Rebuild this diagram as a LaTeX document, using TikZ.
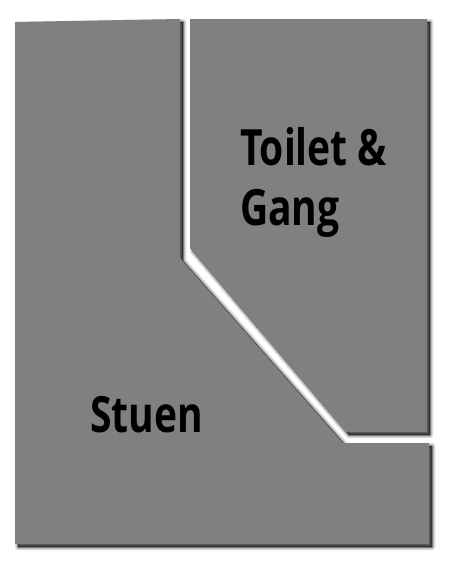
\documentclass[tikz,border=0pt]{standalone}
\usepackage{fontspec}
\setmainfont{Open Sans}[BoldFont={Open Sans Bold},BoldFeatures={FakeStretch=0.78}]
\tikzset{
  room/.style={fill=roomgray,draw=none},
  label/.style={font=\bfseries\fontsize{50}{60}\selectfont,text=black,anchor=base west,inner sep=0pt,outer sep=0pt},
  shadowlayer/.style 2 args={draw=black,fill=black,opacity=#2,line join=round,line width=#1,shift={(3,3)}}
}
\definecolor{roomgray}{HTML}{808080}
\newcommand{\leftroom}{(15,22) -- (180,19) -- (180,258) -- (343,443) -- (429,443) -- (429,544) -- (15,544) -- cycle}
\newcommand{\rightroom}{(190,19) -- (427,19) -- (427,432) -- (346,432) -- (190,248) -- cycle}
\begin{document}
\begin{tikzpicture}[x=1pt,y=-1pt]
\useasboundingbox (0,0) rectangle (456,573);
\fill[white] (0,0) rectangle (456,573);
\foreach \w/\o in {7/0.06,5.5/0.08,4/0.1,2.5/0.15,1/0.25,0.1/0.25}{
  \draw[shadowlayer={\w pt}{\o}] \leftroom;
  \draw[shadowlayer={\w pt}{\o}] \rightroom;
}
\fill[room] \leftroom;
\fill[room] \rightroom;
\node[label] (toilet) at (240,165) {Toilet \&};
\node[label] (gang) at (240,225) {Gang};
\node[label] (stuen) at (90,432) {Stuen};
\end{tikzpicture}
\end{document}
